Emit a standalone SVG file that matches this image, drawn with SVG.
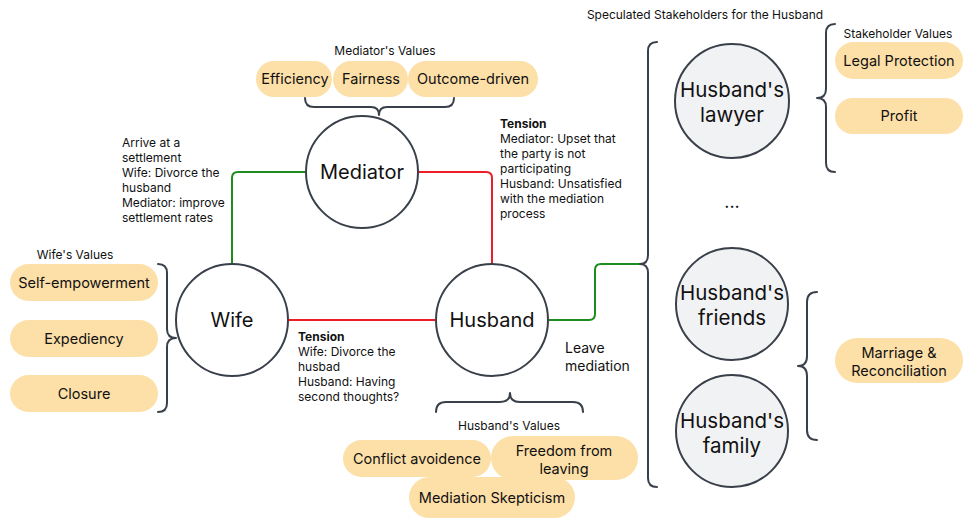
<svg xmlns="http://www.w3.org/2000/svg" width="964" height="520" viewBox="0 0 964 520">
<defs>
<style>
text{font-family:Inter,"Liberation Sans",sans-serif;fill:#111;}
.node{fill:#fff;stroke:#3a404a;stroke-width:2;}
.stake{fill:#f1f2f4;stroke:#3a404a;stroke-width:2;}
.pill{fill:#fddfa8;}
.brace{fill:none;stroke:#3a404a;stroke-width:2;stroke-linecap:round;stroke-linejoin:round;}
.g{fill:none;stroke:#1f8c1f;stroke-width:2;}
.r{fill:none;stroke:#ee1c24;stroke-width:2;}
.nl{font-size:20px;text-anchor:middle;}
.sl{font-size:20.5px;text-anchor:middle;}
.pt{font-size:14.5px;text-anchor:middle;}
.sm{font-size:12px;}
.note{font-size:12px;}
.b{font-weight:bold;}
</style>
<marker id="dg" viewBox="0 0 4 4" refX="2" refY="2" markerWidth="4" markerHeight="4" markerUnits="userSpaceOnUse"><circle cx="2" cy="2" r="1.6" fill="#1f8c1f"/></marker>
<marker id="dr" viewBox="0 0 4 4" refX="2" refY="2" markerWidth="4" markerHeight="4" markerUnits="userSpaceOnUse"><circle cx="2" cy="2" r="1.6" fill="#ee1c24"/></marker>
</defs>
<rect width="964" height="520" fill="#fff"/>

<g id="connectors">
<path class="g" d="M232,264 V178 Q232,172 238,172 H306" marker-start="url(#dg)" marker-end="url(#dg)"/>
<path class="r" d="M418,172 H486 Q492,172 492,178 V264" marker-start="url(#dr)" marker-end="url(#dr)"/>
<path class="r" d="M288,320 H436" marker-start="url(#dr)" marker-end="url(#dr)"/>
<path class="g" d="M548,320 H589 Q595,320 595,314 V270 Q595,264 601,264 H640" marker-start="url(#dg)"/>
</g>

<g id="mediator-values">
<text class="sm" x="385" y="55" text-anchor="middle">Mediator's Values</text>
<rect class="pill" x="256" y="61" width="76" height="36" rx="18"/>
<rect class="pill" x="333" y="61" width="75" height="36" rx="18"/>
<rect class="pill" x="408" y="61" width="130" height="36" rx="18"/>
<text class="pt" x="295" y="84">Efficiency</text>
<text class="pt" x="371" y="84">Fairness</text>
<text class="pt" x="473" y="84">Outcome-driven</text>
<path class="brace" d="M305,98 Q305,107 314,107 H371 Q379,107 379,115 Q379,107 387,107 H445 Q454,107 454,98"/>
</g>

<g id="mediator">
<circle class="node" cx="362" cy="172" r="56"/>
<text class="nl" x="362" y="179">Mediator</text>
</g>

<g id="wife">
<circle class="node" cx="232" cy="320" r="56"/>
<text class="nl" x="232" y="327">Wife</text>
</g>

<g id="husband">
<circle class="node" cx="492" cy="320" r="56"/>
<text class="nl" x="492" y="327">Husband</text>
</g>

<g id="settlement-label">
<text class="note" x="122" y="147">Arrive at a</text>
<text class="note" x="122" y="162">settlement</text>
<text class="note" x="122" y="177">Wife: Divorce the</text>
<text class="note" x="122" y="192">husband</text>
<text class="note" x="122" y="207">Mediator: improve</text>
<text class="note" x="122" y="222">settlement rates</text>
</g>

<g id="tension-top">
<text class="note b" x="500" y="128">Tension</text>
<text class="note" x="500" y="143">Mediator: Upset that</text>
<text class="note" x="500" y="158">the party is not</text>
<text class="note" x="500" y="173">participating</text>
<text class="note" x="500" y="188">Husband: Unsatisfied</text>
<text class="note" x="500" y="203">with the mediation</text>
<text class="note" x="500" y="218">process</text>
</g>

<g id="tension-bottom">
<text class="note b" x="298" y="341">Tension</text>
<text class="note" x="298" y="356">Wife: Divorce the</text>
<text class="note" x="298" y="371">husbad</text>
<text class="note" x="298" y="386">Husband: Having</text>
<text class="note" x="298" y="401">second thoughts?</text>
</g>

<g id="wife-values">
<text class="sm" x="75" y="259" text-anchor="middle">Wife's Values</text>
<rect class="pill" x="10" y="264" width="148" height="37" rx="18.5"/>
<rect class="pill" x="10" y="320" width="148" height="37" rx="18.5"/>
<rect class="pill" x="10" y="375" width="148" height="37" rx="18.5"/>
<text class="pt" x="84" y="287.5">Self-empowerment</text>
<text class="pt" x="84" y="343.5">Expediency</text>
<text class="pt" x="84" y="398.5">Closure</text>
<path class="brace" d="M158,264 Q167,264 167,273 V329 Q167,338 176,338 Q167,338 167,347 V403 Q167,412 158,412"/>
</g>

<g id="husband-values">
<path class="brace" d="M436,412 Q436,402 446,402 H500 Q510,402 510,393 Q510,402 520,402 H573 Q583,402 583,412"/>
<text class="sm" x="509" y="430" text-anchor="middle">Husband's Values</text>
<rect class="pill" x="343" y="440" width="148" height="37" rx="18.5"/>
<rect class="pill" x="409" y="477" width="166" height="41" rx="20.5"/>
<rect class="pill" x="491" y="436" width="147" height="44" rx="22"/>
<text class="pt" x="417" y="463.5">Conflict avoidence</text>
<text class="pt" x="492" y="502.5">Mediation Skepticism</text>
<text class="pt" x="564" y="456">Freedom from</text>
<text class="pt" x="564" y="474">leaving</text>
</g>

<g id="leave-label">
<text x="565" y="353" font-size="14">Leave</text>
<text x="565" y="371" font-size="14">mediation</text>
</g>

<g id="stakeholders">
<text class="sm" x="705" y="19" text-anchor="middle">Speculated Stakeholders for the Husband</text>
<path class="brace" d="M657,42 Q648,42 648,51 V255 Q648,264 640,264 Q648,264 648,273 V478 Q648,487 657,487"/>
</g>

<g id="husbands-lawyer">
<circle class="stake" cx="732" cy="101" r="57"/>
<text class="sl" x="732" y="97">Husband's</text>
<text class="sl" x="732" y="122">lawyer</text>
</g>

<g id="ellipsis">
<text x="732" y="208" font-size="18" text-anchor="middle">...</text>
</g>

<g id="husbands-friends">
<circle class="stake" cx="732" cy="304" r="56"/>
<text class="sl" x="732" y="300">Husband's</text>
<text class="sl" x="732" y="325">friends</text>
</g>

<g id="husbands-family">
<circle class="stake" cx="732" cy="431" r="56"/>
<text class="sl" x="732" y="428">Husband's</text>
<text class="sl" x="732" y="453">family</text>
</g>

<g id="stakeholder-values">
<text class="sm" x="898" y="38" text-anchor="middle">Stakeholder Values</text>
<path class="brace" d="M835,24 Q826,24 826,33 V89 Q826,98 817,98 Q826,98 826,107 V163 Q826,172 835,172"/>
<rect class="pill" x="835" y="42" width="128" height="37" rx="18.5"/>
<rect class="pill" x="835" y="98" width="128" height="36" rx="18"/>
<text class="pt" x="899" y="65.5">Legal Protection</text>
<text class="pt" x="899" y="121">Profit</text>
</g>

<g id="friends-family-values">
<path class="brace" d="M817,292 Q807,292 807,302 V356 Q807,366 798,366 Q807,366 807,376 V430 Q807,440 817,440"/>
<rect class="pill" x="835" y="338" width="128" height="45" rx="22.5"/>
<text class="pt" x="899" y="358">Marriage &amp;</text>
<text class="pt" x="899" y="376">Reconciliation</text>
</g>
</svg>
